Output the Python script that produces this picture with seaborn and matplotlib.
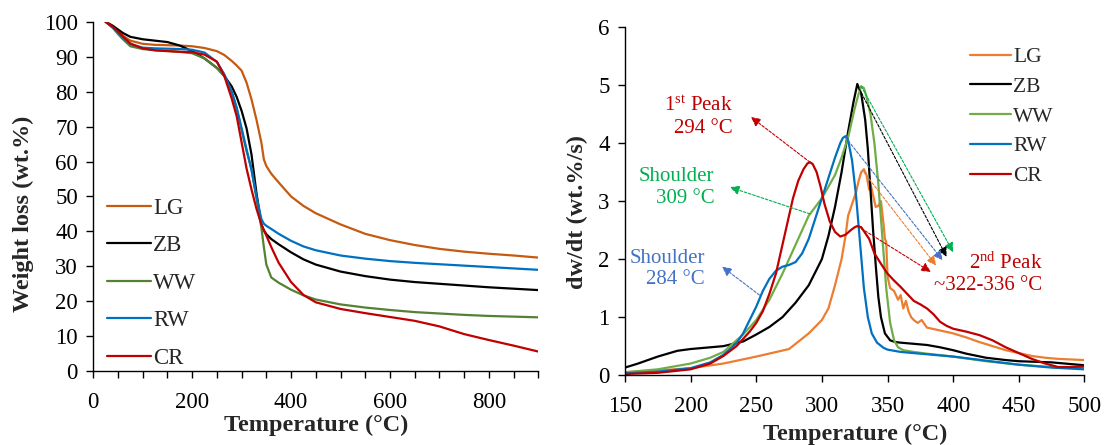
import matplotlib
matplotlib.use("Agg")
import matplotlib.pyplot as plt
import seaborn as sns
import numpy as np
import pandas as pd
from matplotlib.ticker import MultipleLocator

# ---------------- data: TGA (left) ----------------
tga_T = [25, 40, 50, 60, 75, 100, 125, 150, 175, 200, 225, 250, 265, 280, 290, 300, 310,
         320, 330, 340, 345, 350, 360, 375, 400, 425, 450, 500, 550, 600, 650, 700, 750,
         800, 850, 900]
tga_LG = [100, 98.8, 97.3, 96, 94.6, 93.7, 93.4, 93.3, 93.2, 93.0, 92.5, 91.6, 90.5, 88.8,
          87.5, 86, 82.6, 77.8, 72, 65.4, 60.6, 58.7, 56.5, 54, 50, 47.3, 45.2, 42, 39.3,
          37.5, 36.1, 35, 34.2, 33.6, 33.1, 32.5]
tga_ZB = [100, 98.8, 97.8, 96.8, 95.7, 95, 94.6, 94.2, 93.2, 91.6, 89.5, 86.8, 84.5, 81.5,
          78.5, 74.5, 69.5, 62, 51, 42, 40.3, 39.2, 37.8, 36.3, 34, 32, 30.5, 28.5, 27.2,
          26.2, 25.5, 25, 24.5, 24, 23.6, 23.2]
tga_WW = [100, 98.2, 96.5, 95, 93, 92.2, 91.9, 91.7, 91.4, 91, 89.5, 86.8, 84.5, 80, 75,
          69, 63, 58, 49.5, 41, 35.5, 30.5, 26.8, 25.3, 23.3, 21.7, 20.5, 19.1, 18.2, 17.5,
          16.9, 16.5, 16.1, 15.8, 15.6, 15.4]
tga_RW = [100, 98.3, 97, 95.5, 93.6, 92.6, 92.4, 92.3, 92.2, 92, 91.2, 88.5, 85, 80, 75.5,
          69.5, 63.5, 57.5, 50, 43.5, 42.2, 41.6, 40.7, 39.3, 37.3, 35.7, 34.6, 33.1, 32.2,
          31.5, 31, 30.6, 30.2, 29.8, 29.4, 29]
tga_CR = [100, 98.5, 97.2, 95.8, 93.8, 92.4, 91.8, 91.6, 91.4, 91.3, 90.6, 88.6, 84.5, 78,
          73, 65.5, 58, 52, 46.5, 42, 40.3, 38.8, 35.5, 31, 25.5, 21.8, 19.7, 17.8, 16.6,
          15.5, 14.4, 12.8, 10.6, 8.9, 7.3, 5.6]

# ---------------- data: DTG (right) ----------------
dtg_LG_T = [150, 175, 200, 225, 250, 275, 290, 300, 305, 310, 315, 318, 320, 323, 326, 328,
            330, 332, 334, 336, 337, 339, 341, 343, 345, 347, 348, 349, 350, 352, 355, 358,
            360, 362, 364, 366, 368, 370, 373, 376, 380, 390, 400, 410, 420, 430, 440, 450,
            460, 470, 480, 490, 500]
dtg_LG = [0.05, 0.08, 0.12, 0.2, 0.32, 0.45, 0.72, 0.95, 1.15, 1.55, 2.0, 2.4, 2.75, 2.95,
          3.15, 3.35, 3.5, 3.55, 3.45, 3.2, 3.3, 3.1, 2.9, 2.92, 3.0, 2.6, 2.35, 2.3, 1.7,
          1.5, 1.45, 1.3, 1.38, 1.15, 1.28, 1.1, 1.0, 0.95, 0.9, 0.95, 0.82, 0.77, 0.72,
          0.65, 0.57, 0.5, 0.43, 0.38, 0.33, 0.3, 0.28, 0.27, 0.26]
dtg_ZB_T = [150, 160, 175, 190, 200, 210, 225, 240, 250, 260, 270, 280, 290, 300, 305, 310,
            315, 320, 324, 327, 330, 333, 335, 337, 339, 341, 343, 345, 348, 352, 356, 360,
            370, 380, 390, 400, 410, 425, 440, 450, 475, 500]
dtg_ZB = [0.13, 0.2, 0.32, 0.42, 0.45, 0.47, 0.5, 0.58, 0.7, 0.83, 1.0, 1.25, 1.55, 2.0,
          2.4, 2.9, 3.5, 4.2, 4.7, 5.02, 4.85, 4.4, 3.9, 3.2, 2.5, 1.9, 1.35, 1.0, 0.72,
          0.6, 0.57, 0.56, 0.54, 0.52, 0.48, 0.43, 0.37, 0.3, 0.26, 0.24, 0.22, 0.17]
dtg_WW_T = [150, 175, 200, 215, 225, 240, 250, 260, 270, 280, 290, 300, 310, 315, 320, 325,
            328, 330, 332, 334, 337, 340, 343, 346, 349, 352, 355, 358, 362, 370, 380, 400,
            425, 450, 475, 500]
dtg_WW = [0.05, 0.1, 0.2, 0.3, 0.4, 0.7, 0.95, 1.3, 1.75, 2.25, 2.75, 3.05, 3.45, 3.75,
          4.1, 4.6, 4.85, 4.98, 4.95, 4.8, 4.5, 4.0, 3.3, 2.4, 1.5, 0.9, 0.6, 0.48, 0.43,
          0.4, 0.37, 0.32, 0.24, 0.18, 0.14, 0.12]
dtg_RW_T = [150, 175, 200, 215, 225, 235, 240, 245, 250, 255, 260, 265, 270, 275, 280, 285,
            290, 295, 300, 305, 310, 314, 316, 318, 320, 323, 326, 329, 332, 335, 338, 342,
            347, 350, 360, 375, 400, 425, 450, 475, 500]
dtg_RW = [0.03, 0.06, 0.12, 0.22, 0.35, 0.55, 0.72, 0.95, 1.18, 1.45, 1.66, 1.8, 1.87,
          1.9, 1.95, 2.1, 2.35, 2.7, 3.05, 3.4, 3.75, 4.0, 4.09, 4.12, 4.05, 3.7, 3.1, 2.3,
          1.5, 1.0, 0.72, 0.56, 0.47, 0.44, 0.4, 0.37, 0.32, 0.25, 0.18, 0.13, 0.1]
dtg_CR_T = [150, 175, 200, 215, 225, 235, 245, 250, 255, 260, 265, 270, 275, 278, 282, 286,
            289, 291, 293, 296, 299, 302, 306, 310, 314, 318, 322, 325, 327, 330, 333, 336,
            340, 345, 350, 355, 360, 365, 370, 375, 380, 385, 390, 395, 400, 410, 420, 430,
            440, 450, 460, 470, 480, 490, 500]
dtg_CR = [0.02, 0.04, 0.1, 0.2, 0.33, 0.5, 0.75, 0.9, 1.1, 1.4, 1.75, 2.25, 2.75, 3.05,
          3.35, 3.55, 3.65, 3.67, 3.64, 3.5, 3.25, 2.95, 2.65, 2.47, 2.39, 2.42, 2.5, 2.55,
          2.57, 2.55, 2.45, 2.35, 2.1, 1.92, 1.75, 1.63, 1.52, 1.4, 1.28, 1.22, 1.15, 1.05,
          0.92, 0.85, 0.8, 0.75, 0.69, 0.6, 0.48, 0.38, 0.28, 0.2, 0.14, 0.14, 0.15]

labels = ["LG", "ZB", "WW", "RW", "CR"]
colors_left = ["#C55A11", "#000000", "#548235", "#0070C0", "#C00000"]
colors_right = ["#ED7D31", "#000000", "#70AD47", "#0070C0", "#C00000"]

sns.set_theme(style="ticks")
plt.rcParams["font.family"] = ["Liberation Serif", "DejaVu Serif"]
plt.rcParams["mathtext.fontset"] = "custom"
plt.rcParams["mathtext.rm"] = "Liberation Serif"
plt.rcParams["mathtext.it"] = "Liberation Serif:italic"
plt.rcParams["mathtext.bf"] = "Liberation Serif:bold"

FS = 16.5      # tick labels
FS_LAB = 17.5  # axis labels
FS_ANN = 15    # annotations
fig = plt.figure(figsize=(11.1, 4.45), dpi=100)
axL = fig.add_axes([0.084, 0.166, 0.401, 0.785])
axR = fig.add_axes([0.563, 0.157, 0.414, 0.782])

# ---- left panel ----
tga_series = [tga_LG, tga_ZB, tga_WW, tga_RW, tga_CR]
for lab, ys, c in zip(labels, tga_series, colors_left):
    sns.lineplot(x=tga_T, y=ys, ax=axL, color=c, lw=1.6, label=lab)
axL.set_xlim(0, 900)
axL.set_ylim(0, 100)
axL.xaxis.set_major_locator(MultipleLocator(200))
axL.xaxis.set_minor_locator(MultipleLocator(50))
axL.yaxis.set_major_locator(MultipleLocator(10))
axL.set_xlabel("Temperature (°C)", fontsize=FS_LAB, fontweight="bold", labelpad=1)
axL.set_ylabel("Weight loss (wt.%)", fontsize=FS_LAB, fontweight="bold")
axL.legend(loc="center left", bbox_to_anchor=(0.0, 0.252), frameon=False, fontsize=16.5,
           handlelength=1.9, labelspacing=0.72, handletextpad=0.1, borderaxespad=0.2)

# ---- right panel ----
dtg_T = [dtg_LG_T, dtg_ZB_T, dtg_WW_T, dtg_RW_T, dtg_CR_T]
dtg_series = [dtg_LG, dtg_ZB, dtg_WW, dtg_RW, dtg_CR]
for lab, xs, ys, c in zip(labels, dtg_T, dtg_series, colors_right):
    sns.lineplot(x=xs, y=ys, ax=axR, color=c, lw=1.6, label=lab)
axR.set_xlim(150, 500)
axR.set_ylim(0, 6)
axR.xaxis.set_major_locator(MultipleLocator(50))
axR.yaxis.set_major_locator(MultipleLocator(1))
axR.set_xlabel("Temperature (°C)", fontsize=FS_LAB, fontweight="bold", labelpad=5)
axR.set_ylabel("dw/dt (wt.%/s)", fontsize=FS_LAB, fontweight="bold")
axR.legend(loc="center left", bbox_to_anchor=(0.732, 0.743), frameon=False, fontsize=15.5,
           handlelength=1.9, labelspacing=0.45, handletextpad=0.1, borderaxespad=0.0)

for ax in (axL, axR):
    sns.despine(ax=ax)
    ax.tick_params(axis="both", which="major", direction="out", length=5, width=1,
                   labelsize=FS, color="black", labelcolor="black")
    ax.tick_params(axis="both", which="minor", direction="out", length=5, width=1,
                   color="black")
    ax.tick_params(axis="x", which="major", pad=10)
    ax.tick_params(axis="y", which="major", pad=6)
    for s in ("left", "bottom"):
        ax.spines[s].set_color("black")
        ax.spines[s].set_linewidth(1.0)
    ax.grid(False)

axL.yaxis.set_label_coords(-0.133, 0.45)
axR.yaxis.set_label_coords(-0.08, 0.47)

# ---- annotations ----
RED_T = "#C00000"
GRN_T = "#00B050"
BLU_T = "#4472C4"

def arrow(ax, start, end, color):
    ax.annotate("", xy=end, xytext=start,
                arrowprops=dict(arrowstyle="-|>", color=color, lw=0.8,
                                linestyle=(0, (2.5, 1.5)), mutation_scale=14,
                                shrinkA=0, shrinkB=0))

axR.text(232, 4.45, "1$^{\\mathrm{st}}$ Peak\n294 °C", color=RED_T, fontsize=FS_ANN,
         ha="right", va="center", multialignment="right", linespacing=1.2)
axR.text(218, 3.23, "Shoulder\n309 °C", color=GRN_T, fontsize=FS_ANN,
         ha="right", va="center", multialignment="right", linespacing=1.2)
axR.text(211, 1.83, "Shoulder\n284 °C", color=BLU_T, fontsize=FS_ANN,
         ha="right", va="center", multialignment="right", linespacing=1.2)
axR.text(468, 1.75, "2$^{\\mathrm{nd}}$ Peak\n~322-336 °C", color=RED_T, fontsize=FS_ANN,
         ha="right", va="center", multialignment="right", linespacing=1.2)

arrow(axR, (291, 3.67), (246, 4.45), RED_T)
arrow(axR, (291, 2.78), (230, 3.24), GRN_T)
arrow(axR, (252.5, 1.38), (224, 1.87), BLU_T)
arrow(axR, (330, 4.98), (400, 2.12), GRN_T)
arrow(axR, (327, 5.0), (395, 2.04), "#000000")
arrow(axR, (318, 4.1), (392, 1.98), BLU_T)
arrow(axR, (332, 3.5), (387, 1.89), "#ED7D31")
arrow(axR, (327, 2.57), (383, 1.78), RED_T)

fig.savefig("out.png", dpi=100)
